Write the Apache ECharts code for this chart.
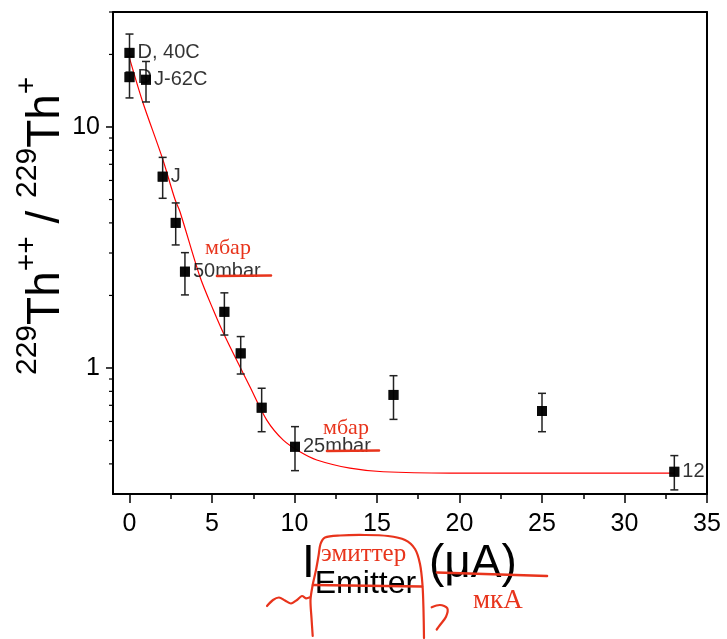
<!DOCTYPE html>
<html><head><meta charset="utf-8">
<script src="https://cdn.jsdelivr.net/npm/echarts@6/dist/echarts.min.js"></script>
<style>html,body{margin:0;padding:0;background:#fff}#c{width:727px;height:639px}</style>
</head><body><div id="c"></div>
<script>
// ---- data ----
const currentX  = [0, 0, 1, 2.01, 2.8, 3.36, 5.75, 6.74, 8.01, 10.03, 16, 25, 33.02];
const ratio     = [20.3, 16.1, 15.7, 6.22, 4.0, 2.51, 1.71, 1.15, 0.684, 0.471, 0.773, 0.663, 0.371];
const ratioLow  = [16.9, 13.2, 12.7, 5.06, 3.24, 2.01, 1.37, 0.944, 0.544, 0.375, 0.612, 0.544, 0.312];
const ratioHigh = [24.3, 19.6, 18.7, 7.48, 4.84, 3.01, 2.05, 1.35, 0.824, 0.571, 0.929, 0.785, 0.433];
const pointLabels = ['D, 40C', 'D', 'J-62C', 'J', '', '50mbar', '', '', '', '25mbar', '', '', '12mbar'];
const fitX = [0, 0.8, 2.0, 2.76, 3.06, 4.27, 5.08, 5.79, 7.3, 8.32, 9.32, 10.33, 11.35, 13.36, 15.38, 19.42, 33];
const fitY = [19.3, 12.7, 7.4, 5.0, 4.45, 2.39, 1.74, 1.35, 0.836, 0.608, 0.502, 0.449, 0.415, 0.384, 0.371, 0.366, 0.366];
const xTickValues  = [0, 5, 10, 15, 20, 25, 30, 35];
const xMinorValues = [2.5, 7.5, 12.5, 17.5, 22.5, 27.5, 32.5];
const yTickValues  = [1, 10];
const yMinorValues = [0.4, 0.5, 0.6, 0.7, 0.8, 0.9, 2, 3, 4, 5, 6, 7, 8, 9, 20, 30];
const X_MIN = -1, X_MAX = 35, Y_MIN = 0.3, Y_MAX = 30;

// ---- helpers ----
const SANS = 'Liberation Sans';
const SERIF = 'Liberation Serif';
const RED = '#e8341c';
const mctx = document.createElement('canvas').getContext('2d');
function tw(str, size, fam) { mctx.font = size + 'px "' + fam + '"'; return mctx.measureText(str).width; }
// build text runs along a baseline; items: [text, size, raise]
function runs(items, x0, base, fam, fill) {
  const out = []; let x = x0;
  const k = fam === SERIF ? 0.3375 : 0.3465;
  items.forEach(([t, s, r]) => {
    out.push({ type: 'text', x: x, y: base - (r || 0) - k * s, silent: true,
      style: { text: t, fontSize: s, fontFamily: fam, fill: fill || '#000', align: 'left', verticalAlign: 'middle' } });
    x += tw(t, s, fam);
  });
  return out;
}
function stroke(points, w, smooth) {
  return { type: 'polyline', silent: true, shape: { points: points, smooth: smooth || 0 },
    style: { stroke: RED, lineWidth: w, fill: null, lineCap: 'round', lineJoin: 'round' }, z: 100 };
}

const chart = echarts.init(document.getElementById('c'), null, { renderer: 'canvas' });

const pointData = currentX.map((x, i) => {
  const item = { value: [x, ratio[i]] };
  if (pointLabels[i] === '12mbar') item.label = { width: 34, overflow: 'truncate', ellipsis: '' };
  return item;
});
const errData = currentX.map((x, i) => [x, ratioLow[i], ratioHigh[i]]);
const yTickData = yTickValues.map(v => [X_MIN, v, 6]).concat(yMinorValues.map(v => [X_MIN, v, 3]));

const yLabel = runs([['229', 30, 24], ['Th', 46, 0], ['++', 30, 24], [' / ', 46, 0], ['229', 30, 24], ['Th', 46, 0], ['+', 30, 24]], 0, 0, SANS);
const xLabel = runs([['I', 46, 0], ['Emitter', 32, -15], [' (\u03bcA)', 46, 0]], 302, 580, SANS);

const option = {
  animation: false,
  textStyle: { fontFamily: SANS },
  grid: { left: 113, right: 20, top: 12, bottom: 145, containLabel: false },
  xAxis: [
    { type: 'value', position: 'bottom', min: X_MIN, max: X_MAX,
      axisLine: { onZero: false, lineStyle: { color: '#000', width: 2 } },
      axisTick: { customValues: xTickValues, length: 9, lineStyle: { color: '#000', width: 1.5 } },
      axisLabel: { customValues: xTickValues, fontSize: 25, color: '#000', margin: 18 },
      splitLine: { show: false } },
    { type: 'value', position: 'bottom', min: X_MIN, max: X_MAX,
      axisLine: { show: false, onZero: false },
      axisTick: { customValues: xMinorValues, length: 5, lineStyle: { color: '#000', width: 1.5 } },
      axisLabel: { show: false }, splitLine: { show: false } },
    { type: 'value', position: 'top', min: X_MIN, max: X_MAX,
      axisLine: { onZero: false, lineStyle: { color: '#000', width: 2 } },
      axisTick: { show: false }, axisLabel: { show: false }, splitLine: { show: false } }
  ],
  yAxis: [
    { type: 'log', logBase: 10, position: 'left', min: Y_MIN, max: Y_MAX,
      axisLine: { onZero: false, lineStyle: { color: '#000', width: 2 } },
      axisTick: { show: false },
      axisLabel: { fontSize: 25, color: '#000', margin: 13,
        formatter: v => (Math.abs(v - 1) < 1e-9 ? '1' : (Math.abs(v - 10) < 1e-7 ? '10' : '')) },
      splitLine: { show: false }, minorSplitLine: { show: false } },
    { type: 'log', logBase: 10, position: 'right', min: Y_MIN, max: Y_MAX,
      axisLine: { onZero: false, lineStyle: { color: '#000', width: 2 } },
      axisTick: { show: false }, axisLabel: { show: false }, splitLine: { show: false } }
  ],
  series: [
    { type: 'custom', name: 'yticks', xAxisIndex: 0, yAxisIndex: 0, silent: true, clip: false, z: 5,
      data: yTickData,
      renderItem: (params, api) => {
        const p = api.coord([api.value(0), api.value(1)]);
        const len = api.value(2);
        return { type: 'line', shape: { x1: p[0] - 1 - len, y1: p[1], x2: p[0] - 1, y2: p[1] },
          style: { stroke: '#000', lineWidth: len > 4 ? 1.5 : 1.2 } };
      } },
    { type: 'line', name: 'fit', xAxisIndex: 0, yAxisIndex: 0, z: 2,
      data: fitX.map((x, i) => [x, fitY[i]]), smooth: 0.3, symbol: 'none',
      lineStyle: { color: '#ff0000', width: 1.2 } },
    { type: 'custom', name: 'err', xAxisIndex: 0, yAxisIndex: 0, silent: true, z: 3,
      data: errData,
      renderItem: (params, api) => {
        const x = api.value(0);
        const a = api.coord([x, api.value(1)]), b = api.coord([x, api.value(2)]);
        const c = 4, st = { stroke: '#222', lineWidth: 1.5 };
        return { type: 'group', children: [
          { type: 'line', shape: { x1: a[0], y1: a[1], x2: b[0], y2: b[1] }, style: st },
          { type: 'line', shape: { x1: a[0] - c, y1: a[1], x2: a[0] + c, y2: a[1] }, style: st },
          { type: 'line', shape: { x1: b[0] - c, y1: b[1], x2: b[0] + c, y2: b[1] }, style: st }
        ] };
      } },
    { type: 'scatter', name: 'pts', xAxisIndex: 0, yAxisIndex: 0, z: 4,
      data: pointData, symbol: 'rect', symbolSize: 10, itemStyle: { color: '#000' },
      label: { show: true, position: 'right', distance: 3, fontSize: 20, color: '#000',
        formatter: p => pointLabels[p.dataIndex] } },
    { type: 'scatter', name: 'pts-top', xAxisIndex: 0, yAxisIndex: 0, z: 6,
      data: currentX.map((x, i) => [x, ratio[i]]), symbol: 'rect', symbolSize: 10,
      itemStyle: { color: '#000' }, label: { show: false } }
  ],
  graphic: [
    { type: 'group', x: 62, y: 375, rotation: Math.PI / 2, children: yLabel },
    ...xLabel,
    // handwritten red annotations
    ...runs([['\u043c\u0431\u0430\u0440', 22, 0]], 205, 256, SERIF, RED),
    ...runs([['\u043c\u0431\u0430\u0440', 22, 0]], 323, 436, SERIF, RED),
    ...runs([['\u044d\u043c\u0438\u0442\u0442\u0435\u0440', 25, 0]], 321, 563, SERIF, RED),
    ...runs([['\u043c\u043a\u0410', 27, 0]], 473, 610, SERIF, RED),
    stroke([[217, 276], [271, 275.5]], 2.6),
    stroke([[327, 451], [379, 450.5]], 2.6),
    stroke([[313, 585], [422, 586.5]], 2.6),
    stroke([[437, 572.5], [547, 576]], 2.6),
    stroke([[312.7, 636], [311.5, 618], [310.5, 600], [312.5, 586], [316, 570], [318.5, 556], [320.5, 544],
            [325, 537.5], [340, 535.5], [365, 535], [388, 536], [405, 540], [415, 549], [420, 564],
            [422.5, 585], [423.5, 610], [424, 638]], 2.2, 0.3),
    stroke([[267, 606], [273, 600], [279, 597.5], [285, 600.5], [291, 603.5], [297, 600],
            [302, 596], [306, 598.3], [310, 597.3]], 2.2, 0.3),
    stroke([[431.7, 607.3], [440, 605], [447.3, 608.3], [446, 616.7], [440, 625], [436.7, 629.5]], 2.2, 0.3)
  ]
};
chart.setOption(option);
</script>
</body></html>
